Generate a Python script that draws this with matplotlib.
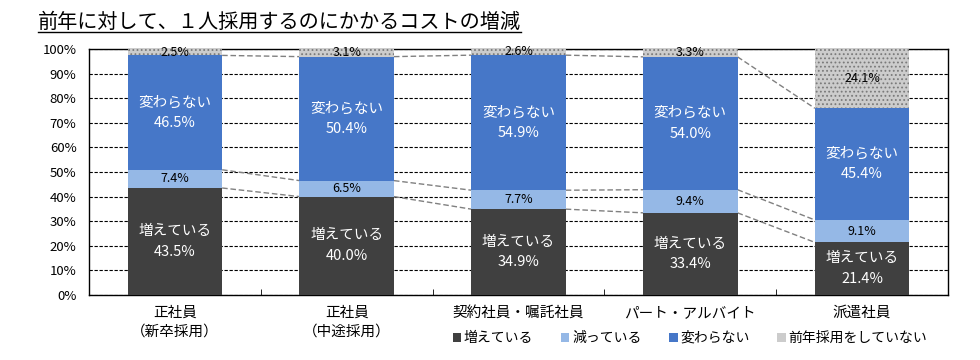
import matplotlib
matplotlib.use("Agg")
import matplotlib.pyplot as plt
from matplotlib.patches import Patch
from matplotlib.lines import Line2D
import numpy as np

plt.rcParams['font.family'] = ['Noto Sans CJK JP', 'DejaVu Sans']
plt.rcParams['hatch.linewidth'] = 0.8

categories = ["正社員\n（新卒採用）", "正社員\n（中途採用）", "契約社員・嘱託社員", "パート・アルバイト", "派遣社員"]
series_names = ["増えている", "減っている", "変わらない", "前年採用をしていない"]
increase = [43.5, 40.0, 34.9, 33.4, 21.4]
decrease = [7.4, 6.5, 7.7, 9.4, 9.1]
unchanged = [46.5, 50.4, 54.9, 54.0, 45.4]
no_hire = [2.5, 3.1, 2.6, 3.3, 24.1]
yticks = [0, 10, 20, 30, 40, 50, 60, 70, 80, 90, 100]
title = "前年に対して、１人採用するのにかかるコストの増減"

colors = ["#404040", "#95b8e6", "#4677c8", "#cccccc"]
text_colors = ["white", "black", "white", "black"]
data = [increase, decrease, unchanged, no_hire]

fig = plt.figure(figsize=(9.8, 3.6), dpi=100)
ax = fig.add_axes([89/980, 65/360, (948-89)/980, (295-49)/360])

x = np.arange(len(categories))
w = 0.55
bottom = np.zeros(len(categories))
cum_levels = []
for k, vals in enumerate(data):
    vals = np.array(vals)
    kw = dict(color=colors[k], width=w, bottom=bottom, zorder=3, linewidth=0)
    if k == 3:
        kw.update(hatch='....', edgecolor='#7a7a7a')
    ax.bar(x, vals, **kw)
    for i, v in enumerate(vals):
        yc = bottom[i] + v / 2
        if k == 0:
            txt = f"増えている\n{v:.1f}%"
        elif k == 2:
            txt = f"変わらない\n{v:.1f}%"
        else:
            txt = f"{v:.1f}%"
        fs = 10.5 if k in (0, 2) else 9
        ax.text(x[i], yc, txt, ha='center', va='center', color=text_colors[k],
                fontsize=fs, zorder=5, linespacing=1.6)
    bottom = bottom + vals
    cum_levels.append(bottom.copy())

# series lines
for lev in cum_levels:
    for i in range(len(categories) - 1):
        ax.plot([x[i] + w/2, x[i+1] - w/2], [lev[i], lev[i+1]],
                color='#808080', linestyle=(0, (4, 2)), linewidth=1, zorder=2)

ax.set_xlim(-0.5, len(categories) - 0.5)
ax.set_ylim(0, 100)
ax.set_yticks(yticks)
ax.set_yticklabels([f"{t}%" for t in yticks], fontsize=9.5)
ax.yaxis.grid(True, color='black', linestyle=(0, (3, 1.5)), linewidth=0.8, zorder=0)
ax.set_axisbelow(True)
ax.tick_params(axis='y', length=0, pad=9)
ax.set_xticks(x)
ax.set_xticklabels(categories, fontsize=10.5, linespacing=1.4)
ax.set_xticks(np.arange(len(categories) - 1) + 0.5, minor=True)
ax.tick_params(axis='x', which='major', length=0, pad=8)
ax.tick_params(axis='x', which='minor', length=4, direction='in')
for s in ax.spines.values():
    s.set_color('black')
    s.set_linewidth(1)

# title with underline
t = fig.text(38/980, 1 - 22/360, title, fontsize=14.5, ha='left', va='center')
fig.canvas.draw()
bb = t.get_window_extent().transformed(fig.transFigure.inverted())
fig.add_artist(Line2D([bb.x0, bb.x1], [bb.y0 + 0.002, bb.y0 + 0.002],
                      transform=fig.transFigure, color='black', linewidth=1))

handles = [Patch(facecolor=colors[k], edgecolor='none') for k in range(4)]
fig.legend(handles, series_names, loc='center', bbox_to_anchor=(690/980, 22/360),
           ncol=4, frameon=False, fontsize=10, handlelength=0.6, handleheight=0.6,
           handletextpad=0.2, columnspacing=2.0)

fig.savefig("out.png", dpi=100)
